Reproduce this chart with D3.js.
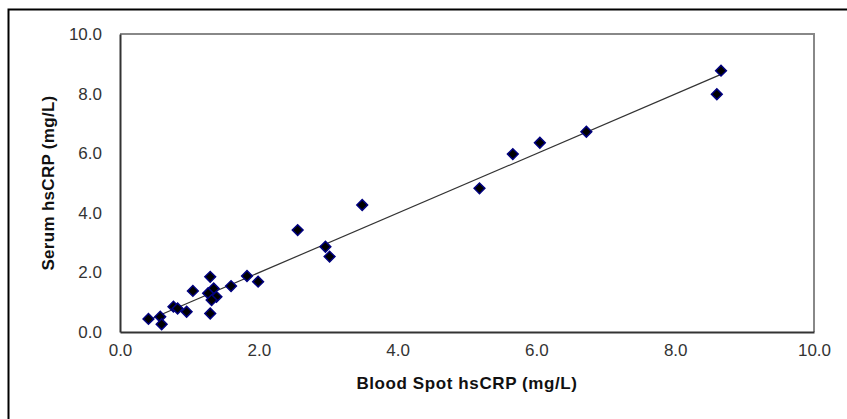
<!DOCTYPE html>
<html>
<head>
<meta charset="utf-8">
<script src="https://cdn.jsdelivr.net/npm/d3@7"></script>
<style>
  body { margin: 0; background: #fff; }
  svg { display: block; font-family: "Liberation Sans", Arial, sans-serif; }
</style>
</head>
<body>
<div id="chart"></div>
<script>
'use strict';

// blood spot hsCRP (x) vs serum hsCRP (y), mg/L
const bloodSpot = [0.41, 0.58, 0.60, 0.77, 0.83, 0.96, 1.05, 1.30, 1.35, 1.27, 1.39, 1.32, 1.30,
                   1.60, 1.83, 1.99, 2.56, 2.96, 3.02, 3.49, 5.18, 5.66, 6.05, 6.72, 8.60, 8.66];
const serum     = [0.44, 0.51, 0.26, 0.85, 0.79, 0.68, 1.38, 1.85, 1.46, 1.30, 1.18, 1.07, 0.62,
                   1.54, 1.88, 1.69, 3.42, 2.86, 2.53, 4.26, 4.82, 5.97, 6.35, 6.72, 7.98, 8.77];
const tickValues = [0, 2, 4, 6, 8, 10];

const width = 847, height = 419;
const plot = { left: 120, top: 34, right: 814, bottom: 332 };

const svg = d3.select("#chart")
    .append("svg")
    .attr("width", width)
    .attr("height", height);

// outer chart border (runs off the right and bottom edge)
svg.append("rect")
    .attr("x", 8.5)
    .attr("y", 9.5)
    .attr("width", 900)
    .attr("height", 500)
    .attr("fill", "#fff")
    .attr("stroke", "#000")
    .attr("stroke-width", 2);

const x = d3.scaleLinear().domain([0, 10]).range([plot.left, plot.right]);
const y = d3.scaleLinear().domain([0, 10]).range([plot.bottom, plot.top]);

// plot area border (grey top/right)
svg.append("path")
    .attr("d", `M${plot.left},${plot.top}H${plot.right}V${plot.bottom}`)
    .attr("fill", "none")
    .attr("stroke", "#888")
    .attr("stroke-width", 2);

// x axis
const xAxis = svg.append("g")
    .attr("transform", `translate(0,${plot.bottom})`)
    .call(d3.axisBottom(x).tickValues(tickValues).tickSize(0).tickPadding(12)
        .tickFormat(d3.format(".1f")));
xAxis.select(".domain").attr("stroke", "#333").attr("stroke-width", 2);
xAxis.selectAll("text").attr("font-size", 17).attr("fill", "#333")
    .attr("font-family", "Liberation Sans, Arial, sans-serif");

// y axis
const yAxis = svg.append("g")
    .attr("transform", `translate(${plot.left},0)`)
    .call(d3.axisLeft(y).tickValues(tickValues).tickSize(0).tickPadding(18)
        .tickFormat(d3.format(".1f")));
yAxis.select(".domain").attr("stroke", "#333").attr("stroke-width", 2);
yAxis.selectAll("text").attr("font-size", 17).attr("fill", "#333")
    .attr("font-family", "Liberation Sans, Arial, sans-serif");

// axis titles
svg.append("text")
    .attr("x", (plot.left + plot.right) / 2)
    .attr("y", 389)
    .attr("text-anchor", "middle")
    .attr("font-size", 17)
    .attr("font-weight", "bold")
    .attr("letter-spacing", 0.6)
    .attr("fill", "#111")
    .text("Blood Spot hsCRP  (mg/L)");

svg.append("text")
    .attr("transform", `translate(54,${(plot.top + plot.bottom) / 2}) rotate(-90)`)
    .attr("text-anchor", "middle")
    .attr("font-size", 17)
    .attr("font-weight", "bold")
    .attr("letter-spacing", 0.3)
    .attr("fill", "#111")
    .text("Serum hsCRP  (mg/L)");

// linear trend line (least squares), drawn across the data range
const data = bloodSpot.map((v, i) => ({ x: v, y: serum[i] }));
const mx = d3.mean(data, d => d.x), my = d3.mean(data, d => d.y);
const slope = d3.sum(data, d => (d.x - mx) * (d.y - my)) / d3.sum(data, d => (d.x - mx) ** 2);
const intercept = my - slope * mx;
const [x0, x1] = d3.extent(data, d => d.x);

svg.append("line")
    .attr("x1", x(x0)).attr("y1", y(intercept + slope * x0))
    .attr("x2", x(x1)).attr("y2", y(intercept + slope * x1))
    .attr("stroke", "#333")
    .attr("stroke-width", 1.2);

// diamond markers
svg.selectAll(".pt")
    .data(data)
    .enter()
    .append("rect")
    .attr("class", "pt")
    .attr("x", -3.8).attr("y", -3.8)
    .attr("width", 7.6).attr("height", 7.6)
    .attr("transform", d => `translate(${x(d.x)},${y(d.y)}) rotate(45)`)
    .attr("fill", "#000")
    .attr("stroke", "#000080")
    .attr("stroke-width", 1.5);
</script>
</body>
</html>
